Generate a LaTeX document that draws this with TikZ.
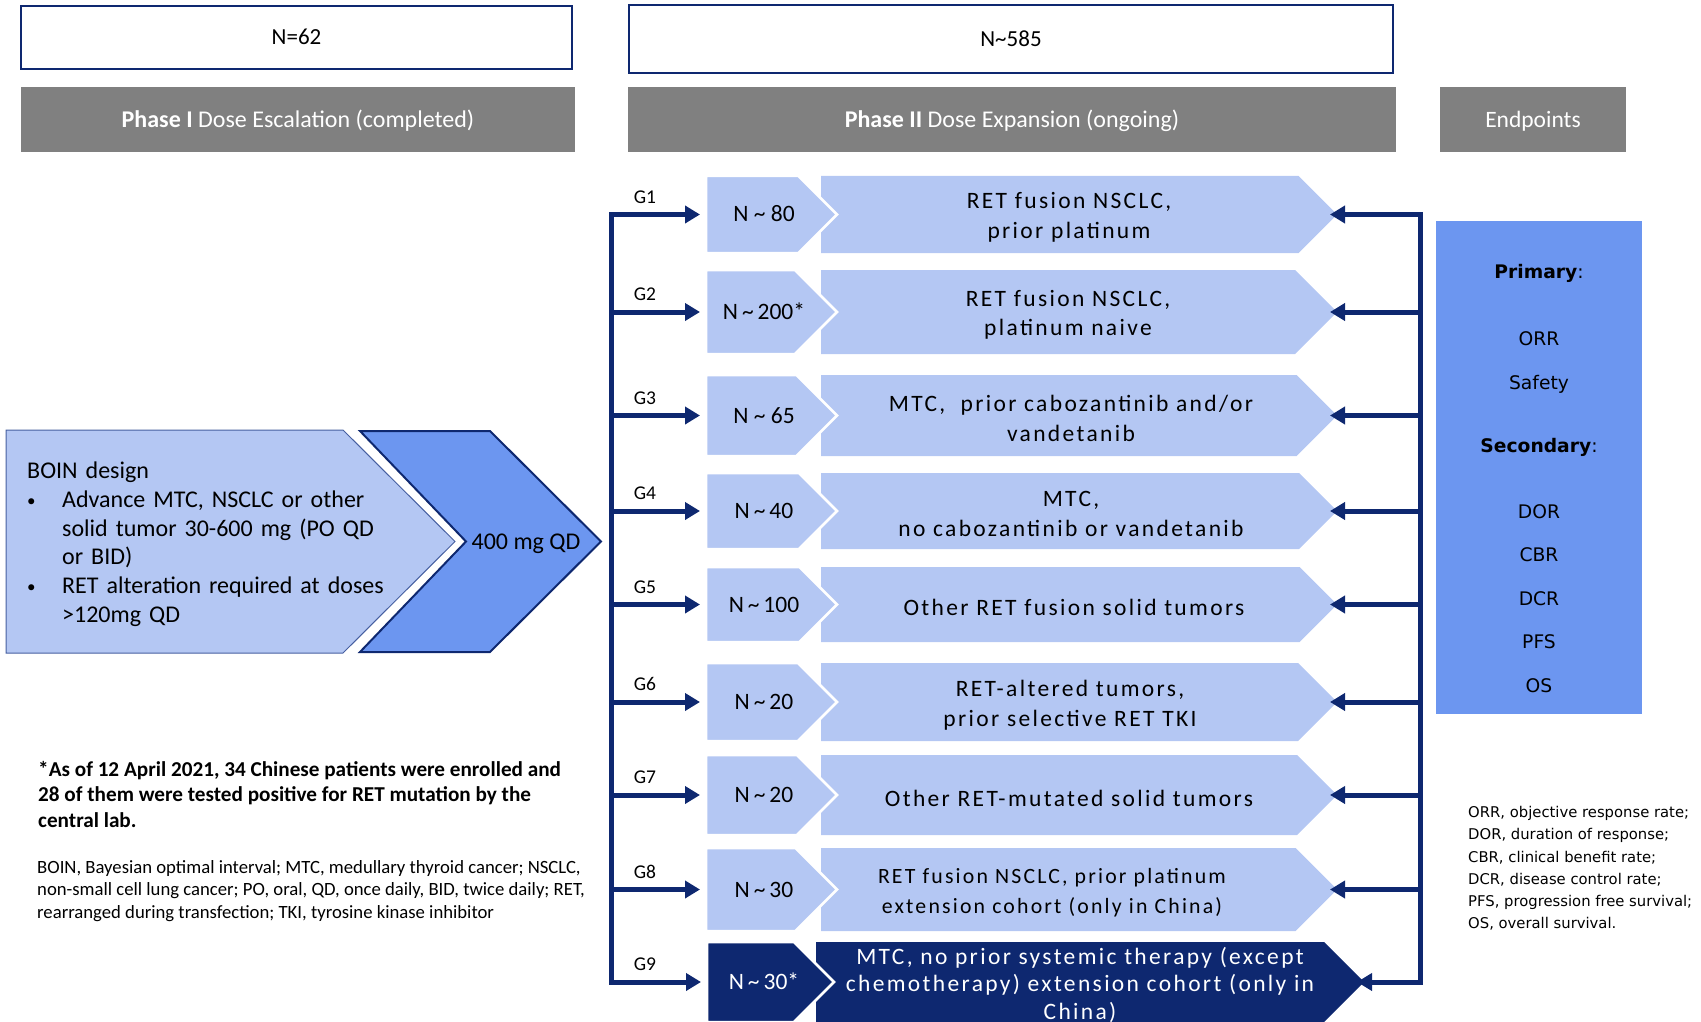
\documentclass[tikz,border=0pt]{standalone}
\usepackage{fontspec}
\setmainfont{Carlito}
\newfontfamily\widefont[LetterSpace=10]{Carlito}
\newfontfamily\verdfont{DejaVu Sans}
\usetikzlibrary{arrows.meta,shapes.symbols}

\definecolor{paleblue}{RGB}{180,199,243}
\definecolor{midblue}{RGB}{108,150,240}
\definecolor{navy}{RGB}{14,40,112}
\definecolor{headgray}{RGB}{128,128,128}
\definecolor{edgeblue}{RGB}{70,95,160}

\tikzset{
  countbox/.style={draw=navy, line width=2.5pt, inner sep=0pt, text height=15pt, text depth=0pt, font=\fontsize{23}{28}\selectfont},
  headbox/.style={fill=headgray, text=white, inner sep=0pt, minimum height=65pt, text height=15.5pt, text depth=0pt, font=\fontsize{24}{28}\selectfont},
  chev/.style={signal, signal to=east, signal pointer angle=90, inner sep=0pt, outer sep=0pt, anchor=west},
  numchev/.style={chev, fill=paleblue, draw=white, line width=2.5pt, minimum width=131pt},
  cohort/.style={chev, fill=paleblue, minimum width=516pt},
  numtext/.style={inner sep=0pt, text height=15pt, text depth=0pt, font=\fontsize{23.5}{28}\selectfont},
  cohtext/.style={inner sep=0pt, align=center},
  arr/.style={draw=navy, line width=5pt, -{Triangle[length=15pt,width=17pt]}},
  bus/.style={draw=navy, line width=5pt, line cap=rect},
  glabel/.style={anchor=south, inner sep=0pt, font=\fontsize{19.5}{22}\selectfont},
  endlabel/.style={inner sep=0pt, text height=14pt, text depth=0pt, font=\verdfont\fontsize{18.7}{22}\selectfont},
}
\newcommand{\boinitem}{\hangindent=35pt\hangafter=1\noindent\makebox[35pt][l]{\raisebox{1pt}{\fontsize{17}{17}\selectfont\textbullet}}}

\begin{document}
\begin{tikzpicture}[x=1pt,y=-1pt]
    \useasboundingbox (0,0) rectangle (1701,1022);

    \node[countbox, minimum width=551pt, minimum height=63pt] (n62) at (296.5,37.5) {N=62};
    \node[countbox, minimum width=764pt, minimum height=68pt] (n585) at (1011,39) {N\textasciitilde 585};
    \node[headbox, minimum width=554pt] (phase1) at (298,119.5) {\textbf{Phase I} Dose Escalation (completed)};
    \node[headbox, minimum width=768pt] (phase2) at (1012,119.5) {\textbf{Phase II} Dose Expansion (ongoing)};
    \node[headbox, minimum width=186pt, font=\fontsize{23.5}{28}\selectfont] (endhead) at (1533,119.5) {Endpoints};

    \filldraw[fill=paleblue, draw=edgeblue, line width=1pt] (6,430) -- (343,430) -- (455,541.5) -- (343,653) -- (6,653) -- cycle;
    \filldraw[fill=midblue, draw=navy, line width=2pt] (360,431) -- (490,431) -- (601,541.5) -- (490,652) -- (360,652) -- (466,541.5) -- cycle;
    \node[anchor=north west, inner sep=0pt, text width=360pt, align=left, font=\fontsize{24}{28.7}\selectfont] (boin) at (27,462) {%
        BOIN design\par
        \boinitem Advance MTC, NSCLC or other\newline solid tumor 30-600 mg (PO QD\newline or BID)\par
        \boinitem RET alteration required at doses\newline >120mg QD\par};
    \node[inner sep=0pt, text height=15.5pt, text depth=0pt, font=\fontsize{24}{28}\selectfont] (dose) at (526,542) {400 mg QD};

    \coordinate (lb1) at (611,214.5);
    \coordinate (lb9) at (611,982);
    \coordinate (rb1) at (1420,214.5);
    \coordinate (rb9) at (1420,982);
    \draw[bus] (lb1) -- (lb9);
    \draw[bus] (rb1) -- (rb9);

    \foreach \i/\y/\h/\x/\fs/\n/\t in {
        1/214.5/77/1069/23.5/{N \textasciitilde{} 80}/{RET fusion NSCLC,\\prior platinum},
        2/312/84/1068/23.5/{N\,\textasciitilde\,200*}/{RET fusion NSCLC,\\platinum naive},
        3/415.5/81/1071/23.5/{N \textasciitilde{} 65}/{MTC,\ \ prior cabozantinib and/or\\vandetanib},
        4/511/76/1071/23.5/{N\,\textasciitilde\,40}/{MTC,\\no cabozantinib or vandetanib},
        5/604.5/75/1074/23.5/{N\,\textasciitilde\,100}/{Other RET fusion solid tumors},
        6/702/78/1070/23.5/{N\,\textasciitilde\,20}/{RET-altered tumors,\\prior selective RET TKI},
        7/795/80/1069/23.5/{N\,\textasciitilde\,20}/{Other RET-mutated solid tumors},
        8/889.5/83/1052/21.8/{N\,\textasciitilde\,30}/{RET fusion NSCLC, prior platinum\\extension cohort (only in China)}} {
        \node[cohort, minimum height=\h pt] (coh\i) at (821,\y) {};
        \node[numchev, minimum height=\h pt] (num\i) at (706,\y) {};
        \node[cohtext, font=\widefont\fontsize{\fs}{29.5}\selectfont] (cohtxt\i) at (\x,\y+3) {\t};
        \node[numtext] (numtxt\i) at (764,\y) {\n};
        \coordinate (lb\i) at (611,\y);
        \coordinate (rb\i) at (1420,\y);
        \node[glabel] (g\i) at (645,\y-11) {G\i};
        \draw[arr, shorten >=6pt] (lb\i) -- (num\i.west);
        \draw[arr, shorten >=-7pt] (rb\i) -- (coh\i.east);
    }

    \node[cohort, fill=navy, minimum height=80pt, minimum width=548pt] (coh9) at (816,982) {};
    \node[numchev, fill=navy, minimum height=80pt, minimum width=127pt] (num9) at (707,982) {};
    \node[cohtext, text=white, font=\widefont\fontsize{23.5}{27.7}\selectfont] (cohtxt9) at (1080,985) {MTC, no prior systemic therapy (except\\chemotherapy) extension cohort (only in\\China)};
    \node[numtext, text=white] (numtxt9) at (764,982) {N\,\textasciitilde\,30*};
    \node[glabel] (g9) at (645,971) {G9};
    \draw[arr, shorten >=6pt] (lb9) -- (num9.west);
    \draw[arr, shorten >=-7pt] (rb9) -- (coh9.east);

    \node[fill=midblue, inner sep=0pt, minimum width=206pt, minimum height=493pt] (endbox) at (1539,467.5) {};
    \foreach \j/\y/\t in {1/271/{\textbf{Primary}:}, 2/338/ORR, 3/382/Safety, 4/445/{\textbf{Secondary}:},
        5/511/DOR, 6/554/CBR, 7/598/DCR, 8/641/PFS, 9/685/OS}
        \node[endlabel] (ep\j) at (1539,\y) {\t};

    \node[anchor=north west, inner sep=0pt, align=left, font=\bfseries\fontsize{21.2}{25.5}\selectfont] (note) at (38,761) {*As of 12 April 2021, 34 Chinese patients were enrolled and\\28 of them were tested positive for RET mutation by the\\central lab.};
    \node[anchor=north west, inner sep=0pt, align=left, font=\fontsize{18.7}{22.8}\selectfont] (abbrleft) at (37,860) {BOIN, Bayesian optimal interval; MTC, medullary thyroid cancer; NSCLC,\\non-small cell lung cancer; PO, oral, QD, once daily, BID, twice daily; RET,\\rearranged during transfection; TKI, tyrosine kinase inhibitor};
    \node[anchor=north west, inner sep=0pt, align=left, font=\verdfont\fontsize{14.8}{22.3}\selectfont] (abbrright) at (1468,806) {ORR, objective response rate;\\DOR, duration of response;\\CBR, clinical benefit rate;\\DCR, disease control rate;\\PFS, progression free survival;\\OS, overall survival.};
\end{tikzpicture}
\end{document}
